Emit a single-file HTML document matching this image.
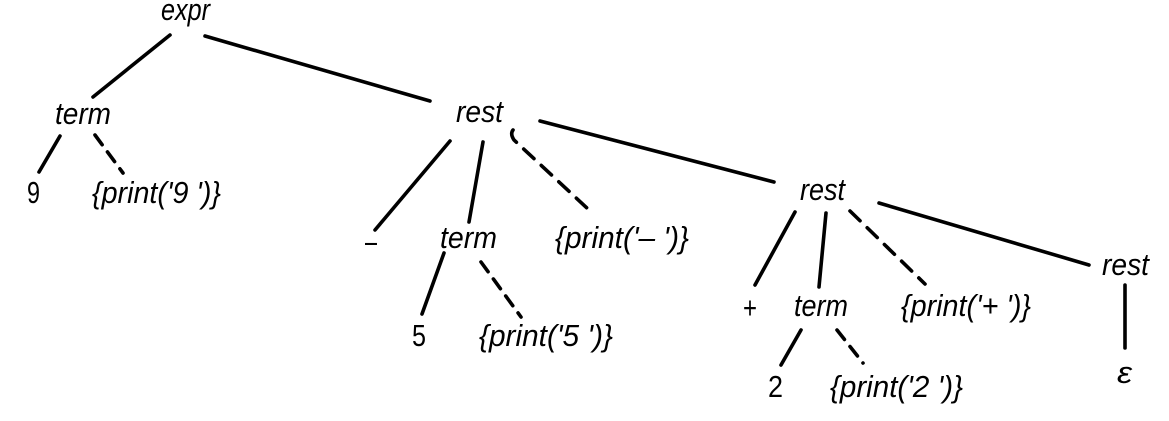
<!DOCTYPE html>
<html><head><meta charset="utf-8"><style>
html,body{margin:0;padding:0;background:#fff;width:1169px;height:421px;overflow:hidden}
svg{display:block}
text{font-family:"Liberation Sans",sans-serif;font-size:31px;fill:#000}
.i{font-style:italic}
</style></head><body>
<svg width="1169" height="421" viewBox="0 0 1169 421">
<g stroke="#000" stroke-width="3.6" stroke-linecap="round" fill="none">
<line x1="170" y1="35" x2="93" y2="97"/>
<line x1="205" y1="36" x2="430" y2="101"/>
<line x1="60" y1="136" x2="39" y2="172"/>
<line x1="95" y1="135" x2="123" y2="173" stroke-dasharray="12,9"/>
<line x1="450" y1="141" x2="375" y2="230"/>
<line x1="483" y1="142" x2="469" y2="222"/>
<path d="M513 130 Q510 134 514 140 L588 209" stroke-dasharray="14,10"/>
<line x1="444" y1="253" x2="422" y2="314"/>
<line x1="481" y1="262" x2="521" y2="317" stroke-dasharray="12,9"/>
<line x1="540" y1="121" x2="774" y2="182"/>
<line x1="795" y1="212" x2="755" y2="285"/>
<line x1="826" y1="213" x2="819" y2="287"/>
<line x1="850" y1="211" x2="925" y2="284" stroke-dasharray="14,10"/>
<line x1="879" y1="203" x2="1089" y2="265"/>
<line x1="1125" y1="285" x2="1125" y2="348"/>
<line x1="801" y1="330" x2="781" y2="365"/>
<line x1="837" y1="330" x2="863" y2="363" stroke-dasharray="12,9"/>
</g>
<text class="i" x="161" y="20" textLength="49" lengthAdjust="spacingAndGlyphs">expr</text>
<text class="i" x="55" y="124" textLength="56" lengthAdjust="spacingAndGlyphs">term</text>
<text class="i" x="456" y="122" textLength="47" lengthAdjust="spacingAndGlyphs">rest</text>
<text x="27" y="203" textLength="13" lengthAdjust="spacingAndGlyphs">9</text>
<text class="i" x="92" y="203" textLength="129" lengthAdjust="spacingAndGlyphs">{print('9 ')}</text>
<text x="365" y="252" textLength="12" lengthAdjust="spacingAndGlyphs">–</text>
<text class="i" x="440" y="248" textLength="57" lengthAdjust="spacingAndGlyphs">term</text>
<text class="i" x="555" y="248" textLength="134" lengthAdjust="spacingAndGlyphs">{print('– ')}</text>
<text x="412" y="346" textLength="14" lengthAdjust="spacingAndGlyphs">5</text>
<text class="i" x="479" y="346" textLength="134" lengthAdjust="spacingAndGlyphs">{print('5 ')}</text>
<text class="i" x="800" y="200" textLength="45" lengthAdjust="spacingAndGlyphs">rest</text>
<text x="743" y="318" textLength="14" lengthAdjust="spacingAndGlyphs">+</text>
<text class="i" x="794" y="316" textLength="54" lengthAdjust="spacingAndGlyphs">term</text>
<text class="i" x="901" y="316" textLength="130" lengthAdjust="spacingAndGlyphs">{print('+ ')}</text>
<text class="i" x="1102" y="275" textLength="47" lengthAdjust="spacingAndGlyphs">rest</text>
<text class="i" x="1117" y="383" textLength="15" lengthAdjust="spacingAndGlyphs">ε</text>
<text x="768" y="397" textLength="15" lengthAdjust="spacingAndGlyphs">2</text>
<text class="i" x="830" y="397" textLength="133" lengthAdjust="spacingAndGlyphs">{print('2 ')}</text>
</svg>
</body></html>
